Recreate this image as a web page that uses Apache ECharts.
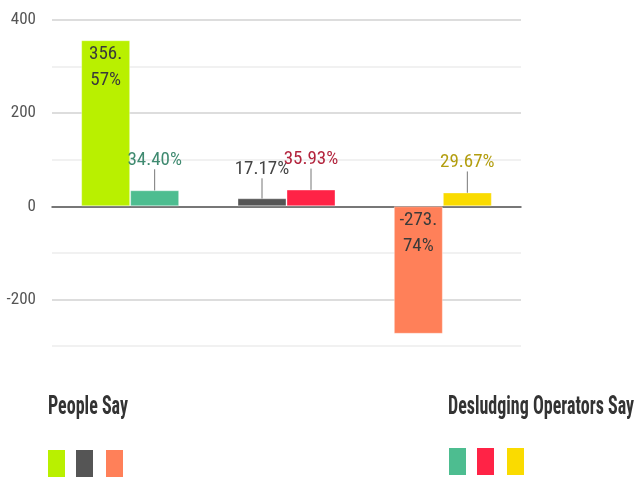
<!DOCTYPE html>
<html>
<head>
<meta charset="utf-8">
<script src="https://cdn.jsdelivr.net/npm/echarts@6/dist/echarts.min.js"></script>
<style>
html,body{margin:0;padding:0;background:#fff;}
#chart{width:635px;height:477px;}
</style>
</head>
<body>
<div id="chart"></div>
<script>
var categories = ['A', 'B', 'C'];
var seriesNames = ['People Say', 'Desludging Operators Say'];
var peopleSay = [356.57, 17.17, -273.74];
var operatorsSay = [34.40, 35.93, 29.67];
var peopleColors = ['#b9f000', '#555555', '#ff8059'];
var operatorsColors = ['#4dbd90', '#ff2346', '#fadb00'];
var peopleLabelColors = ['#3a3a3a', '#444444', '#3a3a3a'];
var operatorsLabelColors = ['#3f8a70', '#b3243d', '#b39e10'];
var yTicks = [-200, 0, 200, 400];

var FONT = "'Roboto Condensed', 'Liberation Sans Narrow', sans-serif";

function fmt(v) {
  return v.toFixed(2) + '%';
}
function fmtWrap(v) {
  var s = v.toFixed(2) + '%';
  var i = s.indexOf('.');
  return s.slice(0, i + 1) + '\n' + s.slice(i + 1);
}

function build(values, colors, labelColors, insideIdx) {
  return values.map(function (v, i) {
    var inside = insideIdx.indexOf(i) >= 0;
    return {
      value: v,
      itemStyle: { color: colors[i], borderColor: 'rgba(255,255,255,0.35)', borderWidth: 1 },
      label: inside ? {
        show: true, position: 'insideTop', distance: 1,
        formatter: fmtWrap(v), color: labelColors[i], lineHeight: 26
      } : {
        show: true, position: 'top', distance: 5,
        formatter: fmt(v), color: labelColors[i]
      },
      labelLine: { show: !inside, lineStyle: { color: '#777', width: 1 } }
    };
  });
}

var chart = echarts.init(document.getElementById('chart'));
var option = {
  animation: false,
  textStyle: { fontFamily: FONT },
  grid: { left: 52, right: 114, top: 20, bottom: 131, containLabel: false },
  xAxis: {
    type: 'category',
    data: categories,
    axisLine: { onZero: true, lineStyle: { color: '#555', width: 1.5 } },
    axisTick: { show: false },
    axisLabel: { show: false },
    splitLine: { show: false }
  },
  yAxis: {
    type: 'value',
    min: -300, max: 400, interval: 100,
    axisLine: { show: false },
    axisTick: { show: false },
    axisLabel: {
      color: '#555', fontSize: 17, fontFamily: FONT, margin: 16,
      formatter: function (v) { return yTicks.indexOf(v) >= 0 ? String(v) : ''; }
    },
    splitLine: { lineStyle: { color: ['#ececec', '#d2d2d2'], width: 1.5 } }
  },
  series: [
    {
      name: seriesNames[0], type: 'bar', barWidth: 49, barGap: '0%',
      data: build(peopleSay, peopleColors, peopleLabelColors, [0, 2]),
      label: { fontSize: 19, fontFamily: FONT },
      labelLayout: function (p) { return p.dataIndex === 1 ? { dy: -15 } : {}; }
    },
    {
      name: seriesNames[1], type: 'bar', barWidth: 49, barGap: '0%',
      data: build(operatorsSay, operatorsColors, operatorsLabelColors, []),
      label: { fontSize: 19, fontFamily: FONT },
      labelLayout: { dy: -16 }
    }
  ],
  graphic: [
    { type: 'text', x: 48, y: 395, scaleY: 1.4, style: { text: seriesNames[0], fill: '#333', font: 'bold 18px ' + FONT, textVerticalAlign: 'top' } },
    { type: 'rect', shape: { x: 48, y: 450, width: 17, height: 27 }, style: { fill: peopleColors[0] } },
    { type: 'rect', shape: { x: 76, y: 450, width: 17, height: 27 }, style: { fill: peopleColors[1] } },
    { type: 'rect', shape: { x: 106, y: 450, width: 17, height: 27 }, style: { fill: peopleColors[2] } },
    { type: 'text', x: 448, y: 395, scaleY: 1.4, style: { text: seriesNames[1], fill: '#333', font: 'bold 18px ' + FONT, textVerticalAlign: 'top' } },
    { type: 'rect', shape: { x: 449, y: 448, width: 17, height: 27 }, style: { fill: operatorsColors[0] } },
    { type: 'rect', shape: { x: 477, y: 448, width: 17, height: 27 }, style: { fill: operatorsColors[1] } },
    { type: 'rect', shape: { x: 507, y: 448, width: 17, height: 27 }, style: { fill: operatorsColors[2] } }
  ]
};
chart.setOption(option);
</script>
</body>
</html>
